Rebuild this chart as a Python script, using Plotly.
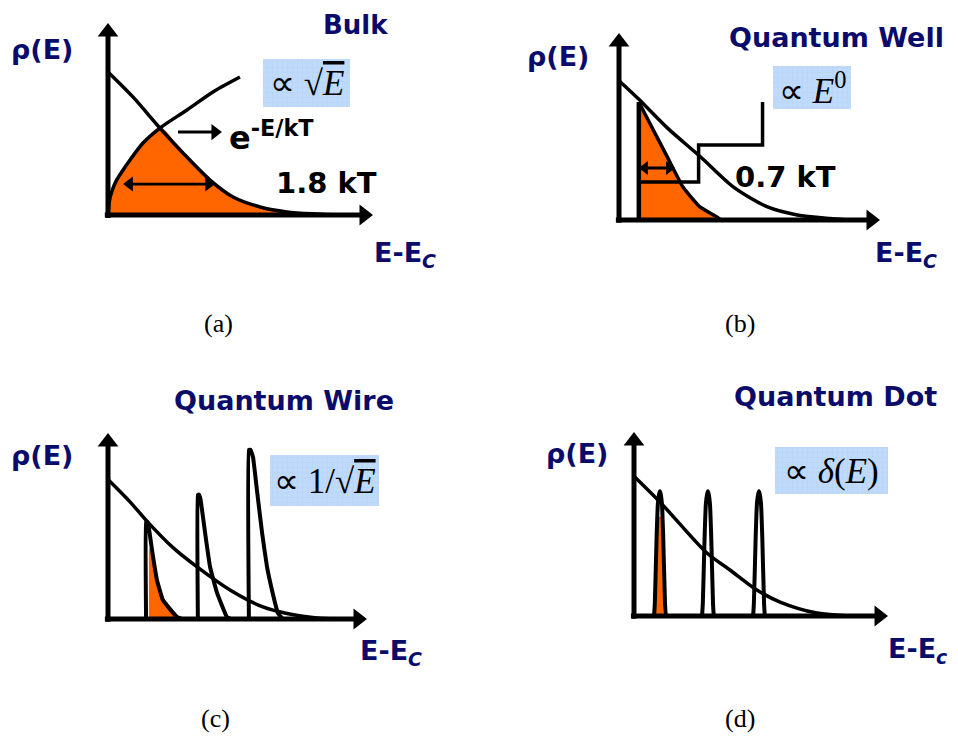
import plotly.graph_objects as go

W, H = 958, 740
ORANGE = "#ff6600"
NAVY = "#0b0b6b"
BOX_BG = "#bfdafa"
BOX_GRID = "#a9c9f0"
LABEL_FONT = "DejaVu Sans"
MATH_FONT = "Liberation Serif"

# ---------------- data (arbitrary energy / DOS units) -------------
# (a) Bulk
a_sqrt_x = [0, 0.05, 0.15, 0.30, 0.50, 0.83, 1.32, 1.96, 2.98, 3.96, 4.98]
a_sqrt_y = [0, 0.70, 1.25, 1.75, 2.20, 2.86, 3.75, 4.53, 5.47, 6.41, 7.19]
a_exp_x = [0, 0.94, 1.96, 2.83, 3.85, 4.72, 5.74, 6.75, 7.89, 8.75]
a_exp_y = [7.45, 6.15, 4.53, 3.23, 1.82, 0.94, 0.42, 0.16, 0.05, 0.0]
a_cross_index_sqrt = 7   # sqrt curve and Boltzmann tail meet at (1.96, 4.53)
a_cross_index_exp = 2
a_width_x = [0.57, 4.04]   # 1.8 kT spread
a_width_y = 1.61
a_pointer_x = [2.64, 4.30]
a_pointer_y = 4.32

# (b) Quantum well
b_exp_x = [0, 0.73, 1.87, 3.13, 4.39, 5.69, 6.83, 8.09, 8.60]
b_exp_y = [7.45, 6.50, 4.90, 3.37, 1.76, 0.70, 0.27, 0.08, 0.03]
b_step_x = [0.76, 3.05, 3.05, 5.50, 5.50]
b_step_y = [2.03, 2.03, 4.01, 4.01, 6.31]
b_occ_x = [0.76, 1.19, 1.84, 2.45, 3.10, 3.75, 3.90]
b_occ_y = [6.31, 5.15, 3.40, 1.76, 0.70, 0.16, 0.0]
b_width_x = [0.76, 2.15]   # 0.7 kT spread
b_width_y = 2.78

# (c) Quantum wire
c_exp_x = [0, 0.85, 1.51, 2.50, 3.44, 4.71, 5.98, 6.91, 8.07, 8.80]
c_exp_y = [7.50, 6.30, 5.25, 3.85, 2.80, 1.56, 0.65, 0.30, 0.06, 0.0]
c_peak1_x = [1.47, 1.47, 1.51, 1.56, 1.70, 1.89, 2.12, 2.66, 2.85]
c_peak1_y = [0, 5.22, 5.24, 5.05, 3.71, 2.10, 1.02, 0.11, 0]
c_peak2_x = [3.47, 3.47, 3.51, 3.57, 3.75, 3.94, 4.21, 4.59, 4.75]
c_peak2_y = [0, 6.67, 6.69, 6.45, 4.62, 2.80, 1.40, 0.11, 0]
c_peak3_x = [5.44, 5.44, 5.50, 5.60, 5.75, 5.95, 6.14, 6.33, 6.56, 6.75]
c_peak3_y = [0, 9.09, 9.10, 8.70, 6.94, 4.62, 2.80, 1.56, 0.32, 0]
c_occ_x = [1.58, 1.58, 1.75, 1.92, 2.14, 2.66, 2.85]
c_occ_y = [0, 3.87, 3.10, 1.90, 0.95, 0.10, 0]

# (d) Quantum dot
d_exp_x = [0, 1.02, 2.87, 3.78, 4.84, 5.75, 7.20, 8.50]
d_exp_y = [7.60, 6.20, 3.42, 2.50, 1.41, 0.76, 0.16, 0.0]
d_peak_centers = [1.02, 2.91, 4.92]
d_peak_dx = [-0.23, -0.20, -0.13, -0.08, -0.035, 0, 0.035, 0.08, 0.13, 0.20, 0.23]
d_peak_y = [0, 0.70, 4.30, 6.10, 6.60, 6.78, 6.60, 6.10, 4.30, 0.70, 0]
d_occ_x = [0.86, 0.96, 1.08, 1.16]
d_occ_y = [0, 5.40, 5.40, 0]

# ---------------- layout helpers ----------------
def px(x):
    return x / W

def py(y):
    return 1 - y / H

# panel frames in pixels: (origin x, origin y, x-arrow tip, y-arrow tip); tips sit at 10 units
frames = {
    "a": (108, 215, 373, 23),
    "b": (619, 220, 880, 33),
    "c": (108, 619, 367, 433),
    "d": (634, 616, 888, 432),
}
axid = {"a": "", "b": "2", "c": "3", "d": "4"}
LO, HI = -0.5, 10.6   # axis range with a little room around the drawn axes

fig = go.Figure()
layout_axes = {}
scale = {}
for k, (ox, oy, xt, yt) in frames.items():
    n = axid[k]
    sx = (xt - ox) / 10.0
    sy = (oy - yt) / 10.0
    scale[k] = (sx, sy)
    layout_axes["xaxis" + n] = dict(domain=[px(ox + LO * sx), px(ox + HI * sx)], range=[LO, HI],
                                    visible=False, anchor="y" + n, fixedrange=True)
    layout_axes["yaxis" + n] = dict(domain=[py(oy - LO * sy), py(oy - HI * sy)], range=[LO, HI],
                                    visible=False, anchor="x" + n, fixedrange=True)
# full-page pixel axes for the shaded formula boxes
layout_axes["xaxis5"] = dict(domain=[0, 1], range=[0, W], visible=False, anchor="y5", fixedrange=True)
layout_axes["yaxis5"] = dict(domain=[0, 1], range=[H, 0], visible=False, anchor="x5", fixedrange=True)


def add_line(k, x, y, width=3.5, shape="spline", smoothing=0.8, color="black"):
    n = axid[k]
    fig.add_trace(go.Scatter(x=x, y=y, mode="lines", xaxis="x" + n, yaxis="y" + n,
                             line=dict(color=color, width=width, shape=shape, smoothing=smoothing),
                             hoverinfo="skip", showlegend=False, cliponaxis=False))


def add_fill(k, x, y, shape="spline", mode="toself"):
    n = axid[k]
    fig.add_trace(go.Scatter(x=x, y=y, mode="lines", xaxis="x" + n, yaxis="y" + n,
                             fill=mode, fillcolor=ORANGE,
                             line=dict(color="rgba(0,0,0,0)", width=0, shape=shape),
                             hoverinfo="skip", showlegend=False))


def add_heads(k, xs, ys, symbols, size):
    n = axid[k]
    fig.add_trace(go.Scatter(x=xs, y=ys, mode="markers", xaxis="x" + n, yaxis="y" + n,
                             marker=dict(symbol=symbols, size=size, color="black",
                                         line=dict(width=0)),
                             hoverinfo="skip", showlegend=False, cliponaxis=False))


def h_arrow(k, x0, x1, y, width, size, both=False):
    """horizontal arrow from x0 to x1 (tip at x1), optional head at x0"""
    sx, _ = scale[k]
    r = size / 2.0 / sx
    add_line(k, [x0 + (r if both else 0), x1 - r], [y, y], width=width, shape="linear")
    xs, ys, syms = [x1 - r], [y], ["triangle-right"]
    if both:
        xs.append(x0 + r)
        ys.append(y)
        syms.append("triangle-left")
    add_heads(k, xs, ys, syms, size)


def v_arrow(k, x, y0, y1, width, size):
    _, sy = scale[k]
    r = size / 2.0 / sy
    add_line(k, [x, x], [y0, y1 - r], width=width, shape="linear")
    add_heads(k, [x], [y1 - r], ["triangle-up"], size)


# (a) orange occupied region: sqrt DOS up to crossing, then Boltzmann tail
a_fill_x = a_sqrt_x[:a_cross_index_sqrt + 1] + a_exp_x[a_cross_index_exp + 1:]
a_fill_y = a_sqrt_y[:a_cross_index_sqrt + 1] + a_exp_y[a_cross_index_exp + 1:]
add_fill("a", a_fill_x, a_fill_y, mode="tozeroy")
add_line("a", a_exp_x, a_exp_y)
add_line("a", a_sqrt_x, a_sqrt_y)
h_arrow("a", a_width_x[0], a_width_x[1], a_width_y, 2.8, 13, both=True)
h_arrow("a", a_pointer_x[0], a_pointer_x[1], a_pointer_y, 3, 14)

# (b)
b_fill_x = [b_occ_x[0]] + b_occ_x + [b_occ_x[0]]
b_fill_y = [0] + b_occ_y + [0]
add_fill("b", b_fill_x, b_fill_y, shape="linear")
add_line("b", b_exp_x, b_exp_y)
add_line("b", [b_occ_x[0]] + b_step_x, [0] + b_step_y, width=3.5, shape="linear")
add_line("b", [b_occ_x[0], b_occ_x[0]], [0, b_occ_y[0]], width=4.5, shape="linear")
add_line("b", b_occ_x, b_occ_y, width=3.5, smoothing=0.4)
h_arrow("b", b_width_x[0], b_width_x[1], b_width_y, 2.8, 12, both=True)

# (c)
add_fill("c", c_occ_x, c_occ_y, shape="linear")
add_line("c", c_exp_x, c_exp_y)
for xs, ys in [(c_peak1_x, c_peak1_y), (c_peak2_x, c_peak2_y), (c_peak3_x, c_peak3_y)]:
    add_line("c", xs, ys, width=4, smoothing=0.3)

# (d)
add_fill("d", d_occ_x, d_occ_y, shape="linear")
add_line("d", d_exp_x, d_exp_y)
for c0 in d_peak_centers:
    add_line("d", [c0 + dx for dx in d_peak_dx], d_peak_y, width=4, smoothing=0.6)

# axes with arrowheads (drawn last so they sit on top)
for k in frames:
    h_arrow(k, -0.12, 10, 0, 5, 18)
    v_arrow(k, 0, -0.15, 10, 5, 18)

annotations = []


def label(text, x, y, size, color=NAVY, family=LABEL_FONT, xanchor="center", yanchor="middle"):
    annotations.append(dict(xref="paper", yref="paper", x=px(x), y=py(y), text=text,
                            showarrow=False, xanchor=xanchor, yanchor=yanchor,
                            font=dict(family=family, size=size, color=color)))


# titles
label("<b>Bulk</b>", 355, 25, 26)
label("<b>Quantum Well</b>", 836, 37, 27)
label("<b>Quantum Wire</b>", 284, 400, 27)
label("<b>Quantum Dot</b>", 835, 397, 27)
# axis labels
for x, y in [(42, 50), (558, 57), (42, 455), (577, 454)]:
    label("<b>ρ(E)</b>", x, y, 27)
for x, y, sub in [(405, 255, "C"), (906, 254, "C"), (391, 652, "C"), (917, 650, "c")]:
    label("<b>E-E<sub><i>" + sub + "</i></sub></b>", x, y, 27)
# kT widths
label("<b>1.8 kT</b>", 326, 183, 29, color="black")
label("<b>0.7 kT</b>", 785, 177, 29, color="black")
label("<b>e</b><sup><b>-E/kT</b></sup>", 227, 136, 32, color="black", xanchor="left")
# panel letters
for t, x, y in [("(a)", 218, 323), ("(b)", 740, 323), ("(c)", 215, 718), ("(d)", 740, 718)]:
    label(t, x, y, 26, color="black", family=MATH_FONT)

# proportionality boxes
box_x0 = [263, 773, 270, 775]
box_y0 = [59, 66, 455, 447]
box_x1 = [350, 851, 379, 888]
box_y1 = [107, 109, 506, 494]
box_text = [
    "∝ √<span style='text-decoration:overline'><i>E</i></span>",
    "∝ <i>E</i><sup>0</sup>",
    "∝ 1/√<span style='text-decoration:overline'><i>E</i></span>",
    "∝ <i>δ</i>(<i>E</i>)",
]
for x0, y0, x1, y1, t in zip(box_x0, box_y0, box_x1, box_y1, box_text):
    fig.add_trace(go.Scatter(x=[x0, x1, x1, x0, x0], y=[y0, y0, y1, y1, y0], mode="lines",
                             xaxis="x5", yaxis="y5", fill="toself", fillcolor=BOX_BG,
                             fillpattern=dict(shape="+", bgcolor=BOX_BG, fgcolor=BOX_GRID,
                                              size=5, solidity=0.15),
                             line=dict(width=0, color=BOX_BG), hoverinfo="skip", showlegend=False))
    label(t, (x0 + x1) / 2, (y0 + y1) / 2 + 1, 35, color="black", family=MATH_FONT)

fig.update_layout(width=W, height=H, margin=dict(l=0, r=0, t=0, b=0),
                  paper_bgcolor="white", plot_bgcolor="rgba(0,0,0,0)",
                  annotations=annotations, showlegend=False, **layout_axes)

fig.write_html("out.html", config={"displayModeBar": False})
